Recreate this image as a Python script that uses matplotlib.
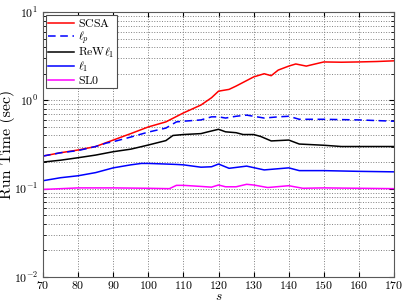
import numpy as np
import matplotlib
matplotlib.use('Agg')
import matplotlib.pyplot as plt

# Dados
s_scsa = [70, 75, 80, 85, 90, 95, 100, 105, 110, 115, 118, 120, 123, 125, 130, 133, 135, 137, 140, 142, 145, 147, 150, 155, 160, 165, 170]
t_scsa = [0.234, 0.255, 0.274, 0.30, 0.355, 0.42, 0.50, 0.57, 0.72, 0.885, 1.07, 1.27, 1.33, 1.45, 1.84, 2.0, 1.9, 2.2, 2.44, 2.58, 2.44, 2.55, 2.72, 2.7, 2.72, 2.75, 2.8]

s_lp = [70, 75, 80, 85, 88, 90, 95, 100, 105, 108, 110, 115, 118, 120, 122, 125, 128, 130, 133, 137, 140, 143, 150, 160, 170]
t_lp = [0.234, 0.255, 0.27, 0.30, 0.328, 0.34, 0.384, 0.437, 0.485, 0.57, 0.58, 0.60, 0.65, 0.65, 0.63, 0.66, 0.68, 0.66, 0.63, 0.65, 0.66, 0.61, 0.61, 0.60, 0.58]

s_rew = [70, 75, 80, 85, 90, 95, 100, 105, 107, 110, 115, 117, 120, 122, 125, 127, 130, 132, 135, 140, 143, 150, 155, 160, 170]
t_rew = [0.20, 0.21, 0.224, 0.24, 0.262, 0.28, 0.312, 0.35, 0.40, 0.41, 0.42, 0.44, 0.47, 0.44, 0.43, 0.41, 0.41, 0.39, 0.347, 0.355, 0.32, 0.31, 0.30, 0.30, 0.30]

s_l1 = [70, 75, 80, 85, 90, 95, 98, 100, 105, 108, 110, 115, 118, 120, 123, 128, 133, 140, 143, 150, 160, 170]
t_l1 = [0.123, 0.133, 0.14, 0.152, 0.172, 0.186, 0.193, 0.193, 0.19, 0.188, 0.186, 0.175, 0.177, 0.19, 0.17, 0.18, 0.163, 0.172, 0.16, 0.16, 0.157, 0.155]

s_sl0 = [70, 80, 90, 100, 106, 108, 110, 115, 118, 120, 122, 125, 128, 130, 134, 140, 144, 150, 160, 170]
t_sl0 = [0.098, 0.102, 0.102, 0.101, 0.10, 0.109, 0.109, 0.106, 0.104, 0.11, 0.105, 0.105, 0.112, 0.11, 0.103, 0.108, 0.101, 0.102, 0.101, 0.10]

plt.rcParams['font.family'] = 'cmr10'
plt.rcParams['mathtext.fontset'] = 'cm'
plt.rcParams['axes.formatter.use_mathtext'] = True

fig = plt.figure(figsize=(4.07, 3.02), dpi=100)
ax = fig.add_axes([0.1057, 0.0828, 0.8625, 0.8775])

ax.semilogy(s_scsa, t_scsa, color='#ff0000', lw=1.1, label=r'$\mathrm{SCSA}$')
ax.semilogy(s_lp, t_lp, color='#0000ff', lw=1.1, ls=(0, (5, 3)), label=r'$\ell_p$')
ax.semilogy(s_rew, t_rew, color='k', lw=1.1, label=r'$\mathrm{ReW}\ell_1$')
ax.semilogy(s_l1, t_l1, color='#0000ff', lw=1.1, label=r'$\ell_1$')
ax.semilogy(s_sl0, t_sl0, color='#ff00ff', lw=1.1, label=r'$\mathrm{SL0}$')

ax.set_xlim(70, 170)
ax.set_ylim(1e-2, 1e1)
ax.set_xticks(np.arange(70, 171, 10))
ax.set_xlabel(r'$s$', fontsize=9.5)
ax.set_ylabel('Run Time (sec)', fontsize=11.5)
ax.xaxis.set_label_coords(0.5, -0.052)
ax.yaxis.set_label_coords(-0.08, 0.5)

ax.tick_params(which='both', direction='in', top=True, right=True, labelsize=8.5)
ax.tick_params(axis='x', pad=1.5)
ax.grid(True, which='major', ls=':', color='0.5', lw=0.7)
ax.grid(True, which='minor', axis='y', ls=':', color='0.5', lw=0.7)
for sp in ax.spines.values():
    sp.set_color('0.35')

leg = ax.legend(loc='upper left', fontsize=8.5, fancybox=False, edgecolor='0.3',
                framealpha=1, handlelength=2.2, borderpad=0.2, labelspacing=0.0,
                borderaxespad=0.25, handletextpad=0.3)
leg.get_frame().set_linewidth(0.8)

plt.savefig('out.png', dpi=100)
